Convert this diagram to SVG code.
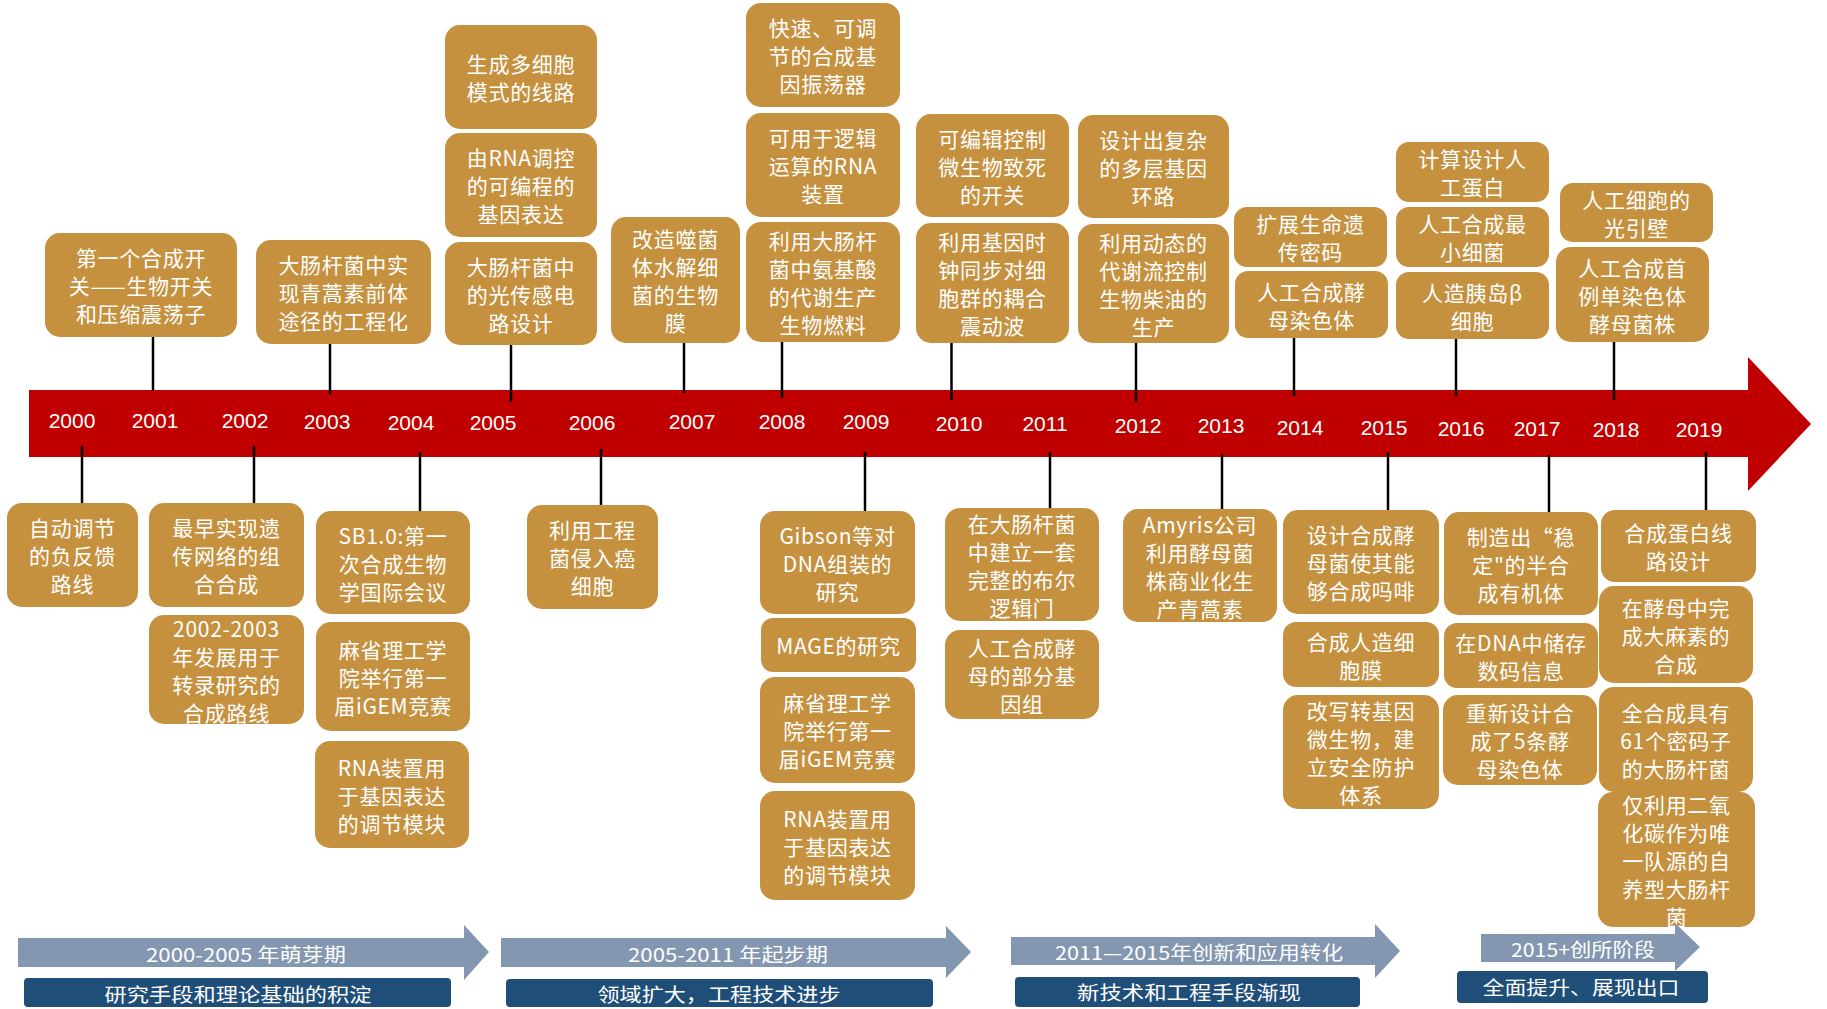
<svg xmlns="http://www.w3.org/2000/svg" width="1827" height="1009" viewBox="0 0 1827 1009">
<style>
.box{fill:#C5913F}
.bt{font-family:"Noto Sans CJK SC","Noto Sans",sans-serif;font-size:21px;fill:#fff;text-anchor:middle;letter-spacing:0.7px}
.yr{font-family:"Liberation Sans",Arial,sans-serif;font-size:21px;fill:#fff;text-anchor:middle}
.ph{fill:#8497B0}
.dk{fill:#1F4E79}
.pt{font-family:"Noto Sans CJK SC","Noto Sans",sans-serif;font-size:19px;fill:#fff;text-anchor:middle}
.con line{stroke:#000;stroke-width:2.5}
</style>
<rect width="1827" height="1009" fill="#fff"/>
<g id="timeline">
<polygon points="29,390 1748,390 1748,357 1811,424 1748,491 1748,457 29,457" fill="#C00000"/>
<text class="yr" x="72" y="428">2000</text>
<text class="yr" x="155" y="428">2001</text>
<text class="yr" x="245" y="428">2002</text>
<text class="yr" x="327" y="429">2003</text>
<text class="yr" x="411" y="430">2004</text>
<text class="yr" x="493" y="430">2005</text>
<text class="yr" x="592" y="430">2006</text>
<text class="yr" x="692" y="429">2007</text>
<text class="yr" x="782" y="429">2008</text>
<text class="yr" x="866" y="429">2009</text>
<text class="yr" x="959" y="431">2010</text>
<text class="yr" x="1045" y="431">2011</text>
<text class="yr" x="1138" y="433">2012</text>
<text class="yr" x="1221" y="433">2013</text>
<text class="yr" x="1300" y="435">2014</text>
<text class="yr" x="1384" y="435">2015</text>
<text class="yr" x="1461" y="436">2016</text>
<text class="yr" x="1537" y="436">2017</text>
<text class="yr" x="1616" y="437">2018</text>
<text class="yr" x="1699" y="437">2019</text>
</g>
<g class="con" id="connectors">
<line x1="153" y1="337" x2="153" y2="391"/>
<line x1="330" y1="343" x2="330" y2="394"/>
<line x1="511" y1="345" x2="511" y2="402"/>
<line x1="684" y1="337" x2="684" y2="393"/>
<line x1="782" y1="342" x2="782" y2="398"/>
<line x1="951.5" y1="343" x2="951.5" y2="400"/>
<line x1="1136" y1="343" x2="1136" y2="402"/>
<line x1="1294" y1="338" x2="1294" y2="396"/>
<line x1="1456" y1="339" x2="1456" y2="396"/>
<line x1="1614" y1="342" x2="1614" y2="400"/>
<line x1="82" y1="446" x2="82" y2="503"/>
<line x1="254" y1="446" x2="254" y2="503"/>
<line x1="420" y1="452" x2="420" y2="511"/>
<line x1="601" y1="449" x2="601" y2="505"/>
<line x1="865" y1="452" x2="865" y2="511"/>
<line x1="1050" y1="452" x2="1050" y2="508"/>
<line x1="1222" y1="454" x2="1222" y2="509"/>
<line x1="1388" y1="452" x2="1388" y2="510"/>
<line x1="1549" y1="455" x2="1549" y2="512"/>
<line x1="1706" y1="452" x2="1706" y2="510"/>
</g>
<g id="A"><rect class="box" x="45" y="233" width="192" height="104" rx="15"/><text class="bt" x="141"><tspan x="141" y="266">第一个合成开</tspan><tspan x="141" y="294">关——生物开关</tspan><tspan x="141" y="322">和压缩震荡子</tspan></text></g>
<g id="B"><rect class="box" x="256" y="240" width="175" height="104" rx="15"/><text class="bt"><tspan x="343.5" y="273">大肠杆菌中实</tspan><tspan x="343.5" y="301">现青蒿素前体</tspan><tspan x="343.5" y="329">途径的工程化</tspan></text></g>
<g id="C1"><rect class="box" x="445" y="25" width="152" height="104" rx="15"/><text class="bt"><tspan x="521" y="72">生成多细胞</tspan><tspan x="521" y="100">模式的线路</tspan></text></g>
<g id="C2"><rect class="box" x="445" y="133" width="152" height="104" rx="15"/><text class="bt"><tspan x="521" y="166">由RNA调控</tspan><tspan x="521" y="194">的可编程的</tspan><tspan x="521" y="222">基因表达</tspan></text></g>
<g id="C3"><rect class="box" x="445" y="242" width="152" height="103" rx="15"/><text class="bt"><tspan x="521" y="274.5">大肠杆菌中</tspan><tspan x="521" y="302.5">的光传感电</tspan><tspan x="521" y="330.5">路设计</tspan></text></g>
<g id="D"><rect class="box" x="611" y="217" width="129" height="126" rx="15"/><text class="bt"><tspan x="675.5" y="247">改造噬菌</tspan><tspan x="675.5" y="275">体水解细</tspan><tspan x="675.5" y="303">菌的生物</tspan><tspan x="675.5" y="331">膜</tspan></text></g>
<g id="E1"><rect class="box" x="746" y="3" width="154" height="104" rx="15"/><text class="bt"><tspan x="823" y="36">快速、可调</tspan><tspan x="823" y="64">节的合成基</tspan><tspan x="823" y="92">因振荡器</tspan></text></g>
<g id="E2"><rect class="box" x="746" y="113" width="154" height="104" rx="15"/><text class="bt"><tspan x="823" y="146">可用于逻辑</tspan><tspan x="823" y="174">运算的RNA</tspan><tspan x="823" y="202">装置</tspan></text></g>
<g id="E3"><rect class="box" x="746" y="222" width="154" height="120" rx="15"/><text class="bt"><tspan x="823" y="249">利用大肠杆</tspan><tspan x="823" y="277">菌中氨基酸</tspan><tspan x="823" y="305">的代谢生产</tspan><tspan x="823" y="333">生物燃料</tspan></text></g>
<g id="F1"><rect class="box" x="916" y="114" width="153" height="103" rx="15"/><text class="bt"><tspan x="992.5" y="146.5">可编辑控制</tspan><tspan x="992.5" y="174.5">微生物致死</tspan><tspan x="992.5" y="202.5">的开关</tspan></text></g>
<g id="F2"><rect class="box" x="916" y="223" width="153" height="120" rx="15"/><text class="bt"><tspan x="992.5" y="250">利用基因时</tspan><tspan x="992.5" y="278">钟同步对细</tspan><tspan x="992.5" y="306">胞群的耦合</tspan><tspan x="992.5" y="334">震动波</tspan></text></g>
<g id="G1"><rect class="box" x="1078" y="115" width="151" height="103" rx="15"/><text class="bt"><tspan x="1153.5" y="147.5">设计出复杂</tspan><tspan x="1153.5" y="175.5">的多层基因</tspan><tspan x="1153.5" y="203.5">环路</tspan></text></g>
<g id="G2"><rect class="box" x="1078" y="224" width="151" height="119" rx="15"/><text class="bt"><tspan x="1153.5" y="250.5">利用动态的</tspan><tspan x="1153.5" y="278.5">代谢流控制</tspan><tspan x="1153.5" y="306.5">生物柴油的</tspan><tspan x="1153.5" y="334.5">生产</tspan></text></g>
<g id="H1"><rect class="box" x="1234" y="207" width="153" height="60" rx="13"/><text class="bt"><tspan x="1310.5" y="232">扩展生命遗</tspan><tspan x="1310.5" y="260">传密码</tspan></text></g>
<g id="H2"><rect class="box" x="1235" y="271" width="153" height="67" rx="13"/><text class="bt"><tspan x="1311.5" y="299.5">人工合成酵</tspan><tspan x="1311.5" y="327.5">母染色体</tspan></text></g>
<g id="I1"><rect class="box" x="1396" y="142" width="153" height="60" rx="13"/><text class="bt"><tspan x="1472.5" y="167">计算设计人</tspan><tspan x="1472.5" y="195">工蛋白</tspan></text></g>
<g id="I2"><rect class="box" x="1396" y="207" width="153" height="60" rx="13"/><text class="bt"><tspan x="1472.5" y="232">人工合成最</tspan><tspan x="1472.5" y="260">小细菌</tspan></text></g>
<g id="I3"><rect class="box" x="1396" y="272" width="153" height="67" rx="13"/><text class="bt"><tspan x="1472.5" y="300.5">人造胰岛β</tspan><tspan x="1472.5" y="328.5">细胞</tspan></text></g>
<g id="J1"><rect class="box" x="1560" y="183" width="153" height="59" rx="13"/><text class="bt"><tspan x="1636.5" y="207.5">人工细跑的</tspan><tspan x="1636.5" y="235.5">光引壁</tspan></text></g>
<g id="J2"><rect class="box" x="1556" y="247" width="153" height="95" rx="15"/><text class="bt"><tspan x="1632.5" y="275.5">人工合成首</tspan><tspan x="1632.5" y="303.5">例单染色体</tspan><tspan x="1632.5" y="331.5">酵母菌株</tspan></text></g>
<g id="K"><rect class="box" x="7" y="503" width="131" height="104" rx="15"/><text class="bt"><tspan x="72.5" y="536">自动调节</tspan><tspan x="72.5" y="564">的负反馈</tspan><tspan x="72.5" y="592">路线</tspan></text></g>
<g id="L1"><rect class="box" x="149" y="503" width="155" height="104" rx="15"/><text class="bt"><tspan x="226.5" y="536">最早实现遗</tspan><tspan x="226.5" y="564">传网络的组</tspan><tspan x="226.5" y="592">合合成</tspan></text></g>
<g id="L2"><rect class="box" x="149" y="615" width="155" height="109" rx="15"/><text class="bt"><tspan x="226.5" y="636.5">2002-2003</tspan><tspan x="226.5" y="664.5">年发展用于</tspan><tspan x="226.5" y="692.5">转录研究的</tspan><tspan x="226.5" y="720.5">合成路线</tspan></text></g>
<g id="M1"><rect class="box" x="316" y="511" width="154" height="103" rx="15"/><text class="bt"><tspan x="393" y="543.5">SB1.0:第一</tspan><tspan x="393" y="571.5">次合成生物</tspan><tspan x="393" y="599.5">学国际会议</tspan></text></g>
<g id="M2"><rect class="box" x="316" y="622" width="154" height="109" rx="15"/><text class="bt"><tspan x="393" y="657.5">麻省理工学</tspan><tspan x="393" y="685.5">院举行第一</tspan><tspan x="393" y="713.5">届iGEM竞赛</tspan></text></g>
<g id="M3"><rect class="box" x="315" y="741" width="154" height="107" rx="15"/><text class="bt"><tspan x="392" y="775.5">RNA装置用</tspan><tspan x="392" y="803.5">于基因表达</tspan><tspan x="392" y="831.5">的调节模块</tspan></text></g>
<g id="N"><rect class="box" x="527" y="505" width="131" height="104" rx="15"/><text class="bt"><tspan x="592.5" y="538">利用工程</tspan><tspan x="592.5" y="566">菌侵入癌</tspan><tspan x="592.5" y="594">细胞</tspan></text></g>
<g id="O1"><rect class="box" x="760" y="511" width="155" height="103" rx="15"/><text class="bt"><tspan x="837.5" y="543.5">Gibson等对</tspan><tspan x="837.5" y="571.5">DNA组装的</tspan><tspan x="837.5" y="599.5">研究</tspan></text></g>
<g id="O2"><rect class="box" x="761" y="618" width="155" height="54" rx="12"/><text class="bt"><tspan x="838.5" y="654">MAGE的研究</tspan></text></g>
<g id="O3"><rect class="box" x="760" y="677" width="155" height="106" rx="15"/><text class="bt"><tspan x="837.5" y="711">麻省理工学</tspan><tspan x="837.5" y="739">院举行第一</tspan><tspan x="837.5" y="767">届iGEM竞赛</tspan></text></g>
<g id="O4"><rect class="box" x="760" y="791" width="155" height="109" rx="15"/><text class="bt"><tspan x="837.5" y="826.5">RNA装置用</tspan><tspan x="837.5" y="854.5">于基因表达</tspan><tspan x="837.5" y="882.5">的调节模块</tspan></text></g>
<g id="P1"><rect class="box" x="945" y="508" width="154" height="113" rx="15"/><text class="bt"><tspan x="1022" y="531.5">在大肠杆菌</tspan><tspan x="1022" y="559.5">中建立一套</tspan><tspan x="1022" y="587.5">完整的布尔</tspan><tspan x="1022" y="615.5">逻辑门</tspan></text></g>
<g id="P2"><rect class="box" x="945" y="630" width="154" height="89" rx="15"/><text class="bt"><tspan x="1022" y="655.5">人工合成酵</tspan><tspan x="1022" y="683.5">母的部分基</tspan><tspan x="1022" y="711.5">因组</tspan></text></g>
<g id="Q"><rect class="box" x="1123" y="509" width="154" height="113" rx="15"/><text class="bt"><tspan x="1200" y="532.5">Amyris公司</tspan><tspan x="1200" y="560.5">利用酵母菌</tspan><tspan x="1200" y="588.5">株商业化生</tspan><tspan x="1200" y="616.5">产青蒿素</tspan></text></g>
<g id="R1"><rect class="box" x="1283" y="510" width="156" height="104" rx="15"/><text class="bt"><tspan x="1361" y="543">设计合成酵</tspan><tspan x="1361" y="571">母菌使其能</tspan><tspan x="1361" y="599">够合成吗啡</tspan></text></g>
<g id="R2"><rect class="box" x="1283" y="622" width="156" height="65" rx="13"/><text class="bt"><tspan x="1361" y="649.5">合成人造细</tspan><tspan x="1361" y="677.5">胞膜</tspan></text></g>
<g id="R3"><rect class="box" x="1283" y="695" width="156" height="114" rx="15"/><text class="bt"><tspan x="1361" y="719">改写转基因</tspan><tspan x="1361" y="747">微生物，建</tspan><tspan x="1361" y="775">立安全防护</tspan><tspan x="1361" y="803">体系</tspan></text></g>
<g id="S1"><rect class="box" x="1444" y="512" width="154" height="103" rx="15"/><text class="bt"><tspan x="1521" y="544.5">制造出“稳</tspan><tspan x="1521" y="572.5">定"的半合</tspan><tspan x="1521" y="600.5">成有机体</tspan></text></g>
<g id="S2"><rect class="box" x="1444" y="623" width="154" height="65" rx="13"/><text class="bt"><tspan x="1521" y="650.5">在DNA中储存</tspan><tspan x="1521" y="678.5">数码信息</tspan></text></g>
<g id="S3"><rect class="box" x="1443" y="695" width="154" height="90" rx="15"/><text class="bt"><tspan x="1520" y="721">重新设计合</tspan><tspan x="1520" y="749">成了5条酵</tspan><tspan x="1520" y="777">母染色体</tspan></text></g>
<g id="T1"><rect class="box" x="1601" y="510" width="155" height="72" rx="14"/><text class="bt"><tspan x="1678.5" y="541">合成蛋白线</tspan><tspan x="1678.5" y="569">路设计</tspan></text></g>
<g id="T2"><rect class="box" x="1599" y="586" width="154" height="97" rx="15"/><text class="bt"><tspan x="1676" y="615.5">在酵母中完</tspan><tspan x="1676" y="643.5">成大麻素的</tspan><tspan x="1676" y="671.5">合成</tspan></text></g>
<g id="T3"><rect class="box" x="1599" y="687" width="154" height="105" rx="15"/><text class="bt"><tspan x="1676" y="720.5">全合成具有</tspan><tspan x="1676" y="748.5">61个密码子</tspan><tspan x="1676" y="776.5">的大肠杆菌</tspan></text></g>
<g id="T4"><rect class="box" x="1598" y="792" width="157" height="135" rx="15"/><text class="bt"><tspan x="1676.5" y="812.5">仅利用二氧</tspan><tspan x="1676.5" y="840.5">化碳作为唯</tspan><tspan x="1676.5" y="868.5">一队源的自</tspan><tspan x="1676.5" y="896.5">养型大肠杆</tspan><tspan x="1676.5" y="924.5">菌</tspan></text></g>
<g id="phase1">
<polygon class="ph" points="18,938 464,938 464,925 489,952 464,980 464,967 18,967"/>
<text class="pt" x="246" y="962" textLength="200" lengthAdjust="spacingAndGlyphs">2000-2005 年萌芽期</text>
<rect class="dk" x="24" y="978" width="427" height="29" rx="4"/>
<text class="pt" x="238" y="1002" textLength="267" lengthAdjust="spacingAndGlyphs">研究手段和理论基础的积淀</text>
</g>
<g id="phase2">
<polygon class="ph" points="501,938 946,938 946,926 971,952 946,978 946,967 501,967"/>
<text class="pt" x="728" y="962" textLength="200" lengthAdjust="spacingAndGlyphs">2005-2011 年起步期</text>
<rect class="dk" x="506" y="979" width="427" height="28" rx="4"/>
<text class="pt" x="719" y="1002" textLength="243" lengthAdjust="spacingAndGlyphs">领域扩大，工程技术进步</text>
</g>
<g id="phase3">
<polygon class="ph" points="1011,937 1375,937 1375,924 1400,951 1375,978 1375,965 1011,965"/>
<text class="pt" x="1199" y="960" textLength="288" lengthAdjust="spacingAndGlyphs">2011—2015年创新和应用转化</text>
<rect class="dk" x="1015" y="977" width="345" height="30" rx="4"/>
<text class="pt" x="1189" y="1000" textLength="224" lengthAdjust="spacingAndGlyphs">新技术和工程手段渐现</text>
</g>
<g id="phase4">
<polygon class="ph" points="1481,934 1675,934 1675,923 1700,947 1675,971 1675,962 1481,962"/>
<text class="pt" x="1583" y="957" textLength="144" lengthAdjust="spacingAndGlyphs">2015+创所阶段</text>
<rect class="dk" x="1457" y="971" width="251" height="32" rx="4"/>
<text class="pt" x="1581" y="995" textLength="197" lengthAdjust="spacingAndGlyphs">全面提升、展现出口</text>
</g>
</svg>
